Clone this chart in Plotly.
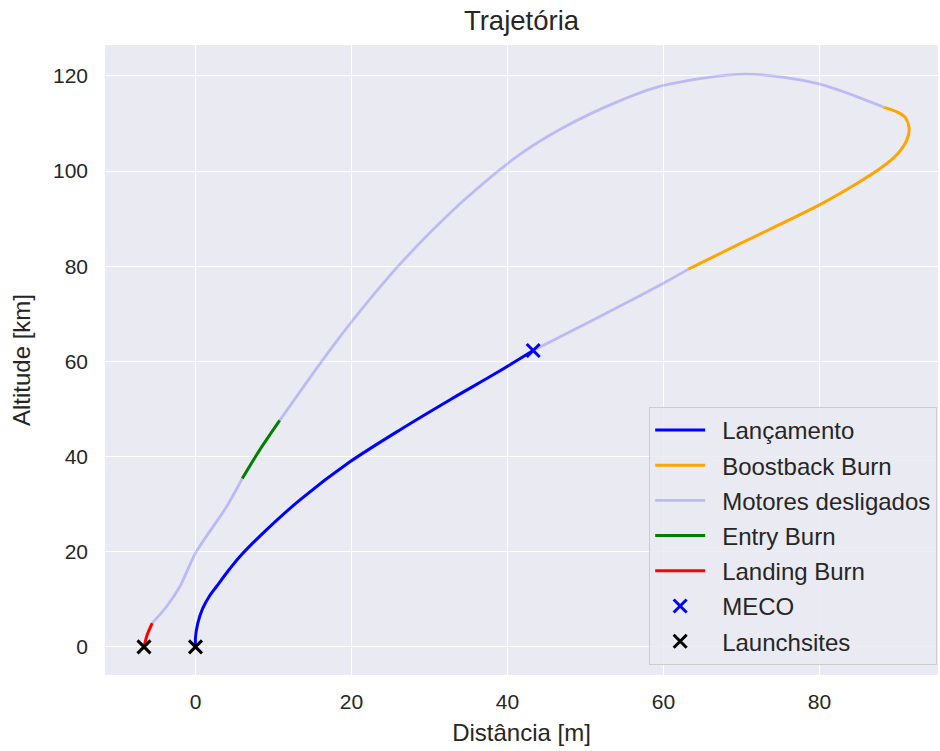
import plotly.graph_objects as go

# ---- data ----
launch_x = [0, 0.0, 0.3, 0.9, 1.8, 2.7, 4.2, 5.7, 9.1, 13.4, 19.8, 26.2, 32.6, 38.5, 43.3]
launch_y = [0, 2.0, 5.0, 8.0, 10.7, 12.7, 16.0, 19.0, 24.6, 30.9, 38.9, 45.6, 51.9, 57.5, 62.3]

coast1_x = [43.3, 51.8, 60.4, 63.2]
coast1_y = [62.3, 69.4, 76.8, 79.4]

boost_x = [63.2, 70.0, 80.0, 85.0, 88.0, 90.0, 91.2, 91.5, 91.0, 90.0, 88.3]
boost_y = [79.4, 84.9, 92.9, 97.6, 100.8, 103.6, 106.5, 109.0, 111.3, 112.4, 113.4]

coast2_x = [88.3, 79.8, 70.5, 60.0, 54.3, 47.0, 41.5, 34.7, 30.4, 25.7, 20.0, 16.0, 10.8]
coast2_y = [113.4, 118.4, 120.4, 118.0, 114.7, 109.0, 103.4, 94.3, 87.6, 79.5, 68.3, 59.6, 47.6]

entry_x = [10.8, 8.2, 6.0]
entry_y = [47.6, 41.3, 35.4]

coast3_x = [6.0, 4.0, 0.0, -2.0, -3.7, -5.55]
coast3_y = [35.4, 29.5, 19.7, 12.7, 8.5, 5.0]

landing_x = [-5.55, -6.2, -6.6]
landing_y = [5.0, 2.5, 0.0]

meco_x = [43.3]
meco_y = [62.3]

sites_x = [-6.6, 0.0]
sites_y = [0.0, 0.0]

x_ticks = [0, 20, 40, 60, 80]
y_ticks = [0, 20, 40, 60, 80, 100, 120]

# ---- styles ----
C_BLUE = "#0000FF"
C_ORANGE = "#FFA500"
C_COAST = "rgba(0,0,255,0.2)"
C_GREEN = "#008000"
C_RED = "#FF0000"
TXT = "#262626"
FONT = "Liberation Sans, Arial, sans-serif"
PAD = "\u2002"  # small gap between legend symbol and its label

fig = go.Figure()

def line(x, y, name, color, width, rank, show=True, group=None):
    fig.add_trace(go.Scatter(
        x=x, y=y, mode="lines", name=PAD + name, showlegend=show,
        legendgroup=group or name, legendrank=rank,
        line=dict(color=color, width=width, shape="spline", smoothing=0.8),
        hoverinfo="skip"))

line(coast1_x, coast1_y, "Motores desligados", C_COAST, 2.8, 3, True, "coast")
line(coast2_x, coast2_y, "Motores desligados", C_COAST, 2.8, 3, False, "coast")
line(coast3_x, coast3_y, "Motores desligados", C_COAST, 2.8, 3, False, "coast")
line(launch_x, launch_y, "Lançamento", C_BLUE, 3, 1)
line(boost_x, boost_y, "Boostback Burn", C_ORANGE, 3, 2)
line(entry_x, entry_y, "Entry Burn", C_GREEN, 3, 4)
line(landing_x, landing_y, "Landing Burn", C_RED, 3, 5)

fig.add_trace(go.Scatter(
    x=meco_x, y=meco_y, mode="markers", name=PAD + "MECO", legendrank=6, legendgroup="meco",
    marker=dict(symbol="x-thin", size=13, line=dict(color=C_BLUE, width=3), color=C_BLUE)))
fig.add_trace(go.Scatter(
    x=sites_x, y=sites_y, mode="markers", name=PAD + "Launchsites", legendrank=7, legendgroup="sites",
    marker=dict(symbol="x-thin", size=13, line=dict(color="black", width=3), color="black")))

fig.update_layout(
    width=940, height=751,
    margin=dict(l=105, r=2, t=45, b=76),
    paper_bgcolor="white",
    plot_bgcolor="#EAEAF2",
    font=dict(family=FONT, size=21, color=TXT),
    title=dict(text="Trajetória", x=0.5, xanchor="center", y=0.973, yanchor="middle",
               font=dict(size=27.5, color=TXT, family=FONT), xref="paper"),
    showlegend=True,
    legend=dict(x=0.999, y=0.016, xanchor="right", yanchor="bottom",
                bgcolor="rgba(234,234,242,0.85)", bordercolor="#CCCCCC", borderwidth=1,
                font=dict(size=24, color=TXT, family=FONT),
                tracegroupgap=1, itemwidth=50),
    xaxis=dict(range=[-11.6, 95.2], tickvals=x_ticks, showgrid=True, gridcolor="white",
               gridwidth=1.3, zeroline=False, showline=False, ticks="",
               ticklabelstandoff=12, tickfont=dict(size=21),
               title=dict(text="Distância [m]", standoff=12, font=dict(size=24))),
    yaxis=dict(range=[-5.9, 126.5], tickvals=y_ticks, showgrid=True, gridcolor="white",
               gridwidth=1.3, zeroline=False, showline=False, ticks="",
               ticklabelstandoff=16, tickfont=dict(size=21),
               title=dict(text="Altitude [km]", standoff=15, font=dict(size=24))),
)

fig.write_html("out.html")
